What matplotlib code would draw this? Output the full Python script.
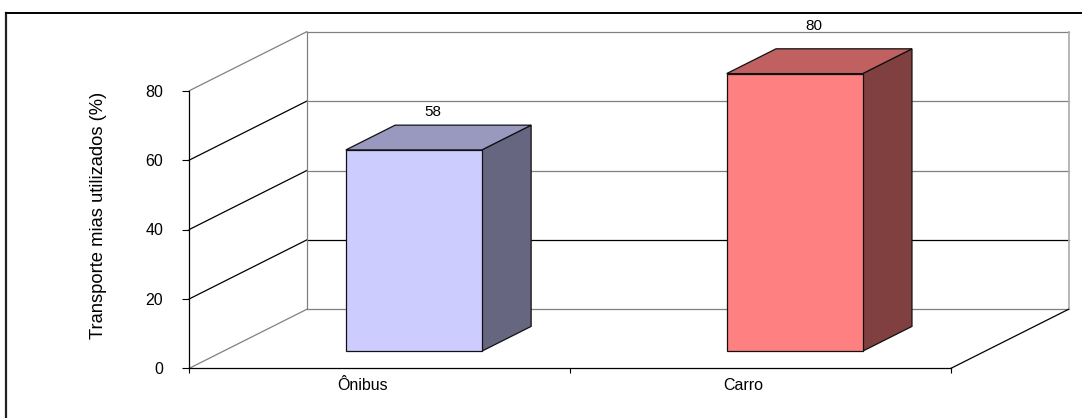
import matplotlib
matplotlib.use("Agg")
import matplotlib.pyplot as plt
from matplotlib.patches import Polygon
from matplotlib.lines import Line2D

plt.rcParams['font.family'] = ['Liberation Sans', 'DejaVu Sans']

# ---- data ----
categories = ["Ônibus", "Carro"]
values = [58, 80]
yticks = [0, 20, 40, 60, 80]
ylabel = "Transporte mias utilizados (%)"

front_colors = ["#CCCCFF", "#FF8080"]
top_colors = ["#9999C0", "#C06060"]
side_colors = ["#666680", "#804040"]

W, H = 1082, 418
fig = plt.figure(figsize=(W / 100, H / 100), dpi=100)
fig.patch.set_facecolor("white")

# front plane of the 3-D box
ax_left, ax_right, ax_top, ax_bot = 189.3, 951.0, 90.7, 368.3
ax = fig.add_axes([ax_left / W, 1 - ax_bot / H, (ax_right - ax_left) / W, (ax_bot - ax_top) / H])
ax.set_xlim(-0.5, len(categories) - 0.5)
ax.set_ylim(0, 80)
ax.patch.set_alpha(0)

# oblique depth offsets (data units for depth = 1)
DX = 117.5 / (ax_right - ax_left) * len(categories)
DY = 59.0 / (ax_bot - ax_top) * 80


def P(x, v, d):
    return (x + d * DX, v + d * DY)


x0, x1 = -0.5, len(categories) - 0.5
grid_back_col = {0: "#808080", 20: "#000000", 40: "#808080", 60: "#808080", 80: "#808080"}
grid_side_col = {0: "#808080", 20: "#000000", 40: "#000000", 60: "#000000", 80: "#808080"}
lw = 0.9
for v in yticks:
    a, b = P(x0, v, 1), P(x1, v, 1)
    ax.plot([a[0], b[0]], [a[1], b[1]], color=grid_back_col[v], lw=lw, clip_on=False, zorder=1)
    a, b = P(x0, v, 0), P(x0, v, 1)
    ax.plot([a[0], b[0]], [a[1], b[1]], color=grid_side_col[v], lw=lw, clip_on=False, zorder=1)
# back wall verticals
a, b = P(x0, 0, 1), P(x0, 80, 1)
ax.plot([a[0], b[0]], [a[1], b[1]], color="#808080", lw=lw, clip_on=False, zorder=1)
a, b = P(x1, 0, 1), P(x1, 80, 1)
ax.plot([a[0], b[0]], [a[1], b[1]], color="#B0B0B0", lw=1.3, clip_on=False, zorder=1)
# floor right edge
a, b = P(x1, 0, 0), P(x1, 0, 1)
ax.plot([a[0], b[0]], [a[1], b[1]], color="#000000", lw=lw, clip_on=False, zorder=1)

# bars
bw = 0.357
d0, d1 = 0.29, 0.71
for i, (val, fc, tc, sc) in enumerate(zip(values, front_colors, top_colors, side_colors)):
    l, r = i - bw / 2, i + bw / 2
    front = [P(l, 0, d0), P(r, 0, d0), P(r, val, d0), P(l, val, d0)]
    top = [P(l, val, d0), P(r, val, d0), P(r, val, d1), P(l, val, d1)]
    side = [P(r, 0, d0), P(r, 0, d1), P(r, val, d1), P(r, val, d0)]
    for poly, c in ((side, sc), (top, tc), (front, fc)):
        ax.add_patch(Polygon(poly, closed=True, facecolor=c, edgecolor="#111111",
                             lw=0.9, clip_on=False, zorder=3))
    lx, ly = P(i + 0.14 - 0.5 * DX, val * 1.127 + 8.5 - 0.5 * DY, 0.5)
    ax.text(lx, ly, str(val), ha="center", va="center", fontsize=11, zorder=5, clip_on=False)

# axes styling
for s in ("top", "right"):
    ax.spines[s].set_visible(False)
for s in ("left", "bottom"):
    ax.spines[s].set_linewidth(0.9)
    ax.spines[s].set_zorder(4)
ax.set_yticks(yticks)
ax.set_yticklabels([str(t) for t in yticks], fontsize=11.5)
ax.tick_params(axis="y", direction="out", length=4.8, width=0.8, pad=14)
ax.set_xticks([x0 + k for k in range(len(categories) + 1)])
ax.set_xticklabels([])
ax.tick_params(axis="x", which="major", direction="out", length=3.6, width=0.8)
ax.set_xticks([k - 0.045 for k in range(len(categories))], minor=True)
ax.set_xticklabels(categories, minor=True, fontsize=11.5)
ax.tick_params(axis="x", which="minor", length=0, pad=7)
ax.set_ylabel(ylabel, fontsize=13.2)
ax.yaxis.set_label_coords(-0.1085, 0.55)

# outer frame (left and top only)
fig.add_artist(Line2D([6 / W, 6 / W], [0, 1 - 13 / H], color="#222222", lw=1.6, transform=fig.transFigure))
fig.add_artist(Line2D([6 / W, 1], [1 - 13 / H, 1 - 13 / H], color="#000000", lw=1.4, transform=fig.transFigure))

fig.savefig("out.png", dpi=100, facecolor="white")
